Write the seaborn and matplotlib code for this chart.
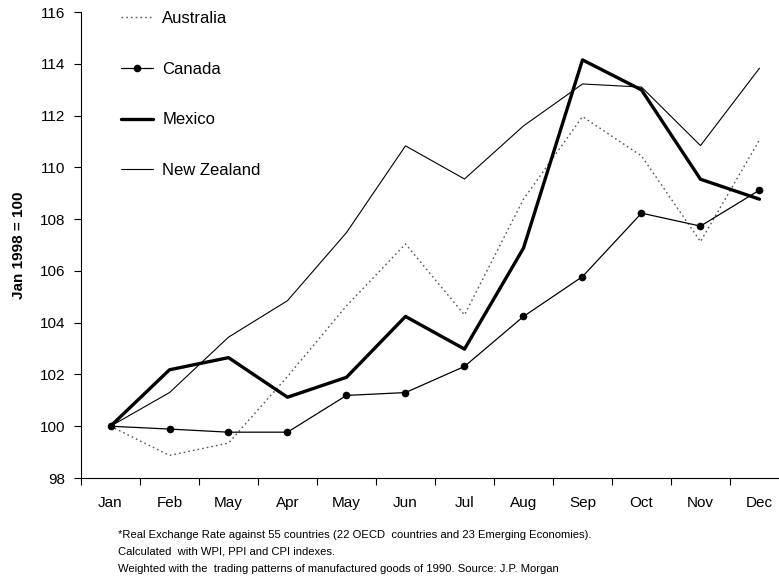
import numpy as np
import pandas as pd
import matplotlib
matplotlib.use("Agg")
import matplotlib.pyplot as plt
import seaborn as sns

months = ["Jan", "Feb", "May", "Apr", "May", "Jun", "Jul", "Aug", "Sep", "Oct", "Nov", "Dec"]
australia = [100.0, 98.87, 99.35, 101.92, 104.65, 107.04, 104.30, 108.77, 111.96, 110.44, 107.13, 111.06]
canada = [100.0, 99.89, 99.77, 99.77, 101.19, 101.30, 102.31, 104.24, 105.78, 108.23, 107.73, 109.12]
mexico = [100.0, 102.18, 102.65, 101.12, 101.89, 104.24, 102.98, 106.88, 114.15, 112.99, 109.54, 108.77]
new_zealand = [100.0, 101.30, 103.44, 104.85, 107.48, 110.83, 109.55, 111.60, 113.22, 113.10, 110.84, 113.83]
yticks = [98, 100, 102, 104, 106, 108, 110, 112, 114, 116]
ylabel = "Jan 1998 = 100"
footnotes = [
    "*Real Exchange Rate against 55 countries (22 OECD  countries and 23 Emerging Economies).",
    "Calculated  with WPI, PPI and CPI indexes.",
    "Weighted with the  trading patterns of manufactured goods of 1990. Source: J.P. Morgan",
]

sns.set_style("white")
plt.rcParams["font.family"] = ["Liberation Sans", "DejaVu Sans"]
plt.rcParams["text.color"] = "black"
plt.rcParams["axes.labelcolor"] = "black"
plt.rcParams["xtick.color"] = "black"
plt.rcParams["ytick.color"] = "black"

fig = plt.figure(figsize=(7.79, 5.82), dpi=100)
ax = fig.add_axes([81 / 779, 1 - 478 / 582, 708 / 779, 466 / 582])

pos = np.arange(len(months))
df = pd.DataFrame({"pos": pos, "Australia": australia, "Canada": canada,
                   "Mexico": mexico, "New Zealand": new_zealand})

sns.lineplot(data=df, x="pos", y="Australia", ax=ax, color="#555555", lw=1.0,
             linestyle=(0, (1.2, 2.2)), label="Australia")
sns.lineplot(data=df, x="pos", y="Canada", ax=ax, color="black", lw=0.9,
             marker="o", markersize=5.5, markeredgewidth=0, label="Canada")
sns.lineplot(data=df, x="pos", y="Mexico", ax=ax, color="black", lw=2.4,
             label="Mexico")
sns.lineplot(data=df, x="pos", y="New Zealand", ax=ax, color="black", lw=0.8,
             label="New Zealand")

ax.set_xlim(-0.5, len(months) - 0.5)
ax.set_ylim(98, 116)
ax.set_yticks(yticks)
ax.set_yticklabels([str(v) for v in yticks], fontsize=11)
ax.set_xticks(np.arange(len(months) + 1) - 0.5)
ax.set_xticklabels([])
ax.set_xticks(pos, minor=True)
ax.set_xticklabels(months, minor=True, fontsize=11)
ax.tick_params(axis="x", which="minor", length=0, pad=13, bottom=True)
ax.tick_params(axis="both", which="major", direction="out", length=5, width=0.8,
               color="black", bottom=True, left=True)
ax.tick_params(axis="y", pad=6)
ax.set_xlabel("")
ax.set_ylabel(ylabel, fontsize=11, fontweight="bold", labelpad=10)

for s in ["top", "right"]:
    ax.spines[s].set_visible(False)
for s in ["left", "bottom"]:
    ax.spines[s].set_color("black")
    ax.spines[s].set_linewidth(0.8)

leg = ax.legend(loc="upper left", bbox_to_anchor=(0.035, 1.035), frameon=False,
                fontsize=12, labelspacing=2.15, handlelength=1.95,
                handletextpad=0.55)

for i, t in enumerate(footnotes):
    fig.text(118 / 779, 1 - (535 + 17 * i) / 582, t, fontsize=8.1,
             va="center", ha="left")

fig.savefig("out.png", dpi=100)
